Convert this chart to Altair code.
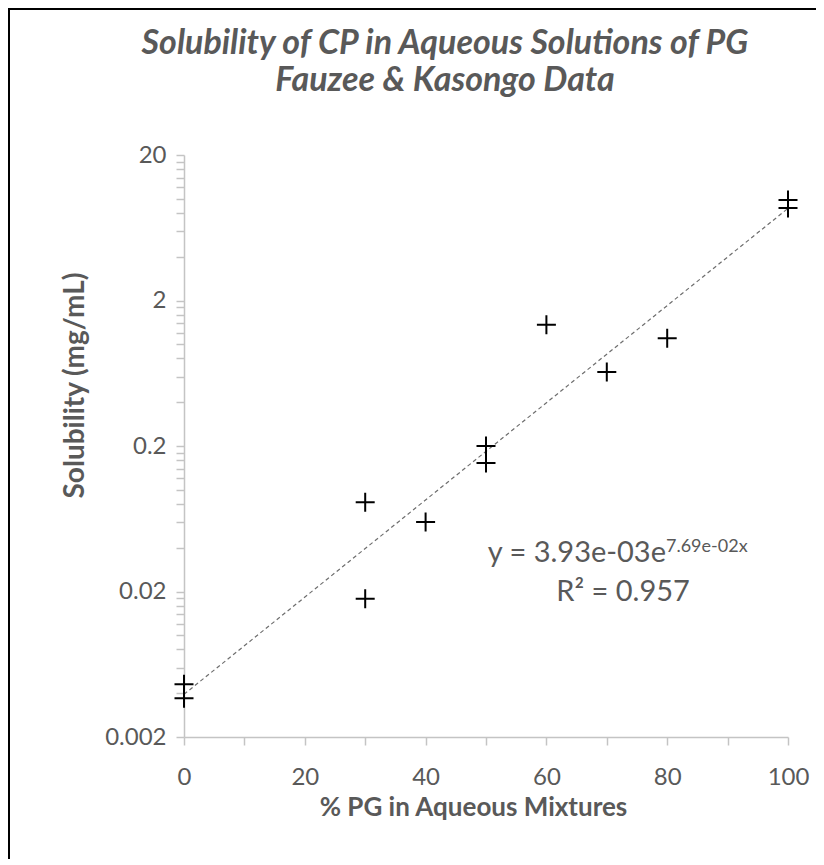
import altair as alt
import pandas as pd
import math

# ---- data ----
pg_percent = [0, 0, 30, 30, 40, 50, 50, 60, 70, 80, 100, 100]
solubility = [0.0046, 0.0037, 0.082, 0.0178, 0.060, 0.20, 0.153, 1.36, 0.645, 1.10, 9.8, 8.65]

# trendline coefficients as printed on the chart (y = a * e^(b x))
fit_a = 3.93e-03
fit_b = 7.69e-02
fit_x = [0, 100]

y_major = [0.002, 0.02, 0.2, 2, 20]
y_minor = [round(base * k, 6) for base in [0.002, 0.02, 0.2, 2] for k in range(2, 10)]
x_all = list(range(0, 101, 5))

title_lines = ["Solubility of CP in Aqueous Solutions of PG", "Fauzee & Kasongo Data"]
x_title = "% PG in Aqueous Mixtures"
y_title = "Solubility (mg/mL)"
eq_main = "y = 3.93e-03e"
eq_sup = "7.69e-02x"
r2_text = "R² = 0.957"

TXT = "#595959"
AX = "#C4C4C4"
FONT = "Lato"

W, H = 604, 582
PL, PT, PR, PB = 176, 147, 28, 122

pts = pd.DataFrame({"x": pg_percent, "y": solubility})
trend = pd.DataFrame({"x": fit_x, "y": [fit_a * math.exp(fit_b * v) for v in fit_x]})

xscale = alt.Scale(domain=[0, 100], nice=False, zero=False)
yscale = alt.Scale(type="log", domain=[0.002, 20], nice=False)

y_vals = sorted(y_major + y_minor)
major_js = "[" + ",".join(repr(v) for v in y_major) + "]"

xaxis = alt.Axis(
    values=x_all, labelExpr="datum.value % 20 == 0 ? datum.label : ''",
    title=x_title, grid=False, domainColor=AX, domainWidth=1.5, tickColor=AX, tickWidth=1.5,
    tickSize=8, labelFont=FONT, labelFontSize=24, labelColor=TXT, labelPadding=20,
    labelOverlap=False, labelFlush=False,
    titleFont=FONT, titleFontSize=26, titleFontWeight="bold", titleColor=TXT,
    titleX=289, titleY=70, titleBaseline="middle", titleAlign="center",
)
yaxis = alt.Axis(
    values=y_vals, format="~g",
    labelExpr=f"indexof({major_js}, datum.value) >= 0 ? datum.label : ''",
    title=y_title, grid=False, domainColor=AX, domainWidth=1.5, tickColor=AX, tickWidth=1.5,
    tickSize=8, labelFont=FONT, labelFontSize=24, labelColor=TXT, labelPadding=10,
    labelOverlap=False, labelFlush=False,
    titleFont=FONT, titleFontSize=28, titleFontWeight="bold", titleColor=TXT,
    titleX=-109, titleY=230, titleBaseline="middle", titleAlign="center", titleAngle=-90,
)

cross = "M-1,0H1M0,-1V1"

points = alt.Chart(pts).mark_point(
    shape=cross, size=361, filled=False, stroke="black", strokeWidth=2, opacity=1
).encode(
    x=alt.X("x:Q", scale=xscale, axis=xaxis),
    y=alt.Y("y:Q", scale=yscale, axis=yaxis),
)

line = alt.Chart(trend).mark_line(
    color="#6E6E6E", strokeWidth=1.2, strokeDash=[4, 3]
).encode(x=alt.X("x:Q", scale=xscale), y=alt.Y("y:Q", scale=yscale))

ann = pd.DataFrame({
    "x": [79.8, 79.8, 72.7],
    "y": [0.0368, 0.0405, 0.0199],
    "t": [eq_main, eq_sup, r2_text],
    "kind": ["main", "sup", "r2"],
})
eq1 = alt.Chart(ann).transform_filter("datum.kind == 'main'").mark_text(
    align="right", baseline="middle", font=FONT, fontSize=29, color=TXT
).encode(x=alt.X("x:Q", scale=xscale), y=alt.Y("y:Q", scale=yscale), text="t:N")
eq2 = alt.Chart(ann).transform_filter("datum.kind == 'sup'").mark_text(
    align="left", baseline="middle", font=FONT, fontSize=18, color=TXT
).encode(x=alt.X("x:Q", scale=xscale), y=alt.Y("y:Q", scale=yscale), text="t:N")
eq3 = alt.Chart(ann).transform_filter("datum.kind == 'r2'").mark_text(
    align="center", baseline="middle", font=FONT, fontSize=29, color=TXT
).encode(x=alt.X("x:Q", scale=xscale), y=alt.Y("y:Q", scale=yscale), text="t:N")

# chart title drawn as text marks (two centered lines above the plot)
title_df = pd.DataFrame({"t": title_lines, "line": [0, 1]})
title1 = alt.Chart(title_df).transform_filter("datum.line == 0").mark_text(
    align="center", baseline="middle", font=FONT, fontSize=34, fontStyle="italic",
    fontWeight="bold", color=TXT
).encode(x=alt.value(261), y=alt.value(-111), text="t:N")
title2 = alt.Chart(title_df).transform_filter("datum.line == 1").mark_text(
    align="center", baseline="middle", font=FONT, fontSize=34, fontStyle="italic",
    fontWeight="bold", color=TXT
).encode(x=alt.value(261), y=alt.value(-74), text="t:N")

frame_left = alt.Chart(pts).mark_rule(color="black", strokeWidth=2).encode(
    x=alt.value(-PL + 1), y=alt.value(-PT), y2=alt.value(H + PB)
)
frame_top = alt.Chart(pts).mark_rule(color="black", strokeWidth=2).encode(
    y=alt.value(-PT + 1), x=alt.value(-PL), x2=alt.value(W + PR)
)

chart = alt.layer(
    frame_left, frame_top, line, points, eq1, eq2, eq3, title1, title2
).properties(
    width=W, height=H,
    padding={"left": PL, "top": PT, "right": PR, "bottom": PB},
    autosize=alt.AutoSizeParams(type="none"),
    background="white",
).configure_view(stroke=None)

chart.save("out.html", embed_options={"renderer": "svg", "actions": False})
